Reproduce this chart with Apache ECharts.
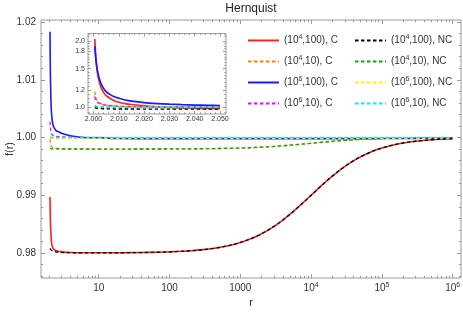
<!DOCTYPE html>
<html><head><meta charset="utf-8">
<script src="https://cdn.jsdelivr.net/npm/echarts@6/dist/echarts.min.js"></script>
<style>html,body{margin:0;padding:0;background:#fff}#c{width:463px;height:313px}</style>
</head><body><div id="c"></div>
<script>
// ---------- data ----------
const R_MAIN = [2.05, 2.07, 2.1, 2.14, 2.2, 2.3, 2.5, 2.8, 3.2, 4, 6, 10, 20, 40, 70,
  100, 150, 200, 300, 400, 500, 700, 1000, 1500, 2000, 3000, 4000, 5000, 7000, 10000,
  15000, 20000, 30000, 40000, 50000, 70000, 100000, 150000, 200000, 300000, 500000, 700000, 1000000];

const RED_C = [0.9897, 0.9864, 0.9840, 0.9822, 0.9812, 0.9807, 0.98040, 0.98025, 0.98015, 0.98008, 0.98004, 0.98003, 0.98004, 0.98008, 0.98014,
  0.98020, 0.98030, 0.98039, 0.98058, 0.98077, 0.98095, 0.98131, 0.98182, 0.98261, 0.98333, 0.98462, 0.98571, 0.98667, 0.98824, 0.99000,
  0.99200, 0.99333, 0.99500, 0.99600, 0.99667, 0.99750, 0.99818, 0.99875, 0.99905, 0.99935, 0.99961, 0.99972, 0.99980];
const ORANGE_C = [0.9997, 0.99916, 0.99875, 0.99846, 0.99830, 0.99819, 0.99813, 0.99810, 0.99807, 0.99804, 0.99802, 0.99801, 0.99800, 0.99801, 0.99801,
  0.99802, 0.99803, 0.99804, 0.99806, 0.99808, 0.99810, 0.99813, 0.99818, 0.99826, 0.99833, 0.99846, 0.99857, 0.99867, 0.99882, 0.99900,
  0.99920, 0.99933, 0.99950, 0.99960, 0.99967, 0.99975, 0.99982, 0.99988, 0.99990, 0.99994, 0.99996, 0.99997, 0.99998];
const BLUE_C = [1.0183, 1.0124, 1.0079, 1.0048, 1.0030, 1.0019, 1.0012, 1.0009, 1.0006, 1.0003, 1.0000, 0.99995, 0.99983, 0.99981, 0.99980,
  0.99980, 0.99980, 0.99980, 0.99980, 0.99980, 0.99980, 0.99980, 0.99980, 0.99980, 0.99980, 0.99980, 0.99980, 0.99980, 0.99980, 0.99980,
  0.99980, 0.99980, 0.99981, 0.99981, 0.99981, 0.99981, 0.99982, 0.99983, 0.99983, 0.99985, 0.99987, 0.99988, 0.99990];
const MAGENTA_C = [1.00278, 1.00188, 1.00121, 1.00073, 1.00047, 1.00030, 1.00020, 1.00015, 1.00010, 1.00005, 1.00002, 1.00000, 0.99999, 0.99998, 0.99998,
  0.99998, 0.99998, 0.99998, 0.99998, 0.99998, 0.99998, 0.99998, 0.99998, 0.99998, 0.99998, 0.99998, 0.99998, 0.99998, 0.99998, 0.99998,
  0.99998, 0.99998, 0.99998, 0.99998, 0.99998, 0.99998, 0.99998, 0.99998, 0.99998, 0.99998, 0.99999, 0.99999, 0.99999];
const BLACK_NC = [0.9808, 0.9807, 0.9806, 0.9805, 0.9804, 0.9803, 0.9802, 0.98013, 0.98008, 0.98005, 0.98003, 0.98003, 0.98004, 0.98008, 0.98014,
  0.98020, 0.98030, 0.98039, 0.98058, 0.98077, 0.98095, 0.98131, 0.98182, 0.98261, 0.98333, 0.98462, 0.98571, 0.98667, 0.98824, 0.99000,
  0.99200, 0.99333, 0.99500, 0.99600, 0.99667, 0.99750, 0.99818, 0.99875, 0.99905, 0.99935, 0.99961, 0.99972, 0.99980];
const GREEN_NC = [0.99808, 0.99807, 0.99806, 0.99805, 0.99804, 0.99803, 0.99802, 0.99801, 0.99801, 0.99801, 0.99801, 0.99800, 0.99800, 0.99801, 0.99801,
  0.99802, 0.99803, 0.99804, 0.99806, 0.99808, 0.99810, 0.99813, 0.99818, 0.99826, 0.99833, 0.99846, 0.99857, 0.99867, 0.99882, 0.99900,
  0.99920, 0.99933, 0.99950, 0.99960, 0.99967, 0.99975, 0.99982, 0.99988, 0.99990, 0.99994, 0.99996, 0.99997, 0.99998];
const YELLOW_NC = [0.99988, 0.99987, 0.99986, 0.99985, 0.99984, 0.99983, 0.99982, 0.99981, 0.99981, 0.99980, 0.99980, 0.99980, 0.99980, 0.99980, 0.99980,
  0.99980, 0.99980, 0.99980, 0.99980, 0.99980, 0.99980, 0.99980, 0.99980, 0.99980, 0.99980, 0.99980, 0.99980, 0.99980, 0.99980, 0.99980,
  0.99980, 0.99980, 0.99981, 0.99981, 0.99981, 0.99981, 0.99982, 0.99983, 0.99983, 0.99985, 0.99987, 0.99988, 0.99990];
const CYAN_NC = [1.00006, 1.00005, 1.00004, 1.00003, 1.00002, 1.00001, 1.00000, 0.99999, 0.99999, 0.99998, 0.99998, 0.99998, 0.99998, 0.99998, 0.99998,
  0.99998, 0.99998, 0.99998, 0.99998, 0.99998, 0.99998, 0.99998, 0.99998, 0.99998, 0.99998, 0.99998, 0.99998, 0.99998, 0.99998, 0.99998,
  0.99998, 0.99998, 0.99998, 0.99998, 0.99998, 0.99998, 0.99998, 0.99998, 0.99998, 0.99998, 0.99999, 0.99999, 0.99999];

// inset (zoom near r = 2)
const R_INSET = [2.0005, 2.00075, 2.001, 2.0015, 2.002, 2.003, 2.004, 2.005, 2.0065, 2.008, 2.01, 2.0125, 2.015, 2.02, 2.025, 2.03, 2.035, 2.04, 2.045, 2.05];
const RED_C_IN = [2.05, 1.82, 1.65, 1.46, 1.35, 1.23, 1.17, 1.13, 1.10, 1.075, 1.055, 1.04, 1.03, 1.015, 1.005, 0.999, 0.994, 0.991, 0.988, 0.987];
const ORANGE_C_IN = [1.18, 1.13, 1.10, 1.07, 1.055, 1.038, 1.029, 1.023, 1.018, 1.013, 1.010, 1.007, 1.005, 1.003, 1.0019, 1.0012, 1.0007, 1.0003, 1.0000, 0.9997];
const BLUE_C_IN = [1.90, 1.75, 1.63, 1.48, 1.39, 1.28, 1.22, 1.18, 1.145, 1.12, 1.10, 1.08, 1.067, 1.05, 1.04, 1.033, 1.028, 1.024, 1.021, 1.0185];
const MAGENTA_C_IN = [1.12, 1.09, 1.075, 1.056, 1.045, 1.033, 1.026, 1.021, 1.017, 1.014, 1.011, 1.009, 1.0075, 1.0058, 1.0047, 1.004, 1.0035, 1.0031, 1.003, 1.0028];
const BLACK_NC_IN = [0.996, 0.994, 0.992, 0.990, 0.988, 0.986, 0.985, 0.984, 0.9835, 0.983, 0.9825, 0.982, 0.9817, 0.9814, 0.9812, 0.9811, 0.9810, 0.9809, 0.9808, 0.9808];
const GREEN_NC_IN = [1.012, 1.009, 1.007, 1.005, 1.004, 1.003, 1.002, 1.0015, 1.001, 1.0005, 1.0, 0.9995, 0.9992, 0.9988, 0.9986, 0.9984, 0.9983, 0.9982, 0.9981, 0.99808];
const YELLOW_NC_IN = [1.025, 1.02, 1.016, 1.012, 1.01, 1.007, 1.0055, 1.0045, 1.0035, 1.003, 1.0025, 1.002, 1.0017, 1.0013, 1.001, 1.0008, 1.0006, 1.0004, 1.0002, 0.99988];
const CYAN_NC_IN = [1.02, 1.016, 1.013, 1.01, 1.008, 1.006, 1.0048, 1.004, 1.0032, 1.0027, 1.0022, 1.0018, 1.0015, 1.0011, 1.0009, 1.0007, 1.0005, 1.0003, 1.0002, 1.00006];

const NAMES = ['(10^4,100), C', '(10^4,10), C', '(10^6,100), C', '(10^6,10), C',
               '(10^4,100), NC', '(10^4,10), NC', '(10^6,100), NC', '(10^6,10), NC'];

// tick labels
const X_MAJOR = [10, 100, 1000, 10000, 100000, 1000000];
const Y_MAJOR = [0.98, 0.99, 1.00, 1.01, 1.02];
const XI_MAJOR = [2.00, 2.01, 2.02, 2.03, 2.04, 2.05];
const YI_MAJOR = [1.0, 1.2, 1.5, 1.8, 2.0];
const YI_MINOR = [0.95, 1.05, 1.1, 1.15, 1.25, 1.3, 1.35, 1.4, 1.45, 1.55, 1.6, 1.65, 1.7, 1.75, 1.85, 1.9, 1.95, 2.1, 2.15];

// ---------- styling / building ----------
const X_MIN = 1.53, X_MAX = 1.31e6;
const Y_MIN = 0.97567, Y_MAX = 1.02035;
const XI_MIN = 1.99783, XI_MAX = 2.05237;
const YI_MIN = 0.932, YI_MAX = 2.171;

const X_MINOR = [];
for (let n = 0; n <= 5; n++) for (let k = 2; k <= 9; k++) X_MINOR.push(k * Math.pow(10, n));
const Y_MINOR = [];
for (let i = 976; i <= 1020; i += 2) if (i % 10 !== 0) Y_MINOR.push(i / 1000);
const XI_MINOR = [];
for (let i = 1998; i <= 2052; i += 2) if (i % 10 !== 0) XI_MINOR.push(i / 1000);

const FONT = 'Liberation Sans, Arial, sans-serif';
const AX = '#9a9a9a';
const TXT = '#333';

const COLORS = ['#ff2020', '#ff8000', '#1a1aff', '#ff00ff', '#000000', '#00b000', '#f5f500', '#00f0f0'];
const DASHED = [false, true, false, true, true, true, true, true];
const MAIN_DATA = [RED_C, ORANGE_C, BLUE_C, MAGENTA_C, BLACK_NC, GREEN_NC, YELLOW_NC, CYAN_NC];
const INSET_DATA = [RED_C_IN, ORANGE_C_IN, BLUE_C_IN, MAGENTA_C_IN, BLACK_NC_IN, GREEN_NC_IN, YELLOW_NC_IN, CYAN_NC_IN];

const supRich = { sup: { fontSize: 7, verticalAlign: 'top', lineHeight: 8, fontFamily: FONT, color: TXT } };

function supFmt(s) { return s.replace(/\^(\d)/g, '{sup|$1}'); }
function fmtX(v) {
  const e = Math.round(Math.log10(v));
  return e <= 3 ? String(Math.round(v)) : '10{sup|' + e + '}';
}

function tickOnly(base, pos, values, len) {
  return Object.assign({}, base, {
    position: pos,
    axisLine: { show: false, onZero: false },
    splitLine: { show: false },
    axisTick: { show: true, inside: true, length: len, customValues: values, lineStyle: { color: AX, width: 1 } },
    axisLabel: { show: false }
  });
}

const xMainBase = { type: 'log', logBase: 10, min: X_MIN, max: X_MAX, gridIndex: 0 };
const yMainBase = { type: 'value', min: Y_MIN, max: Y_MAX, gridIndex: 0, scale: true };
const xInBase = { type: 'value', min: XI_MIN, max: XI_MAX, gridIndex: 1, scale: true };
const yInBase = { type: 'log', logBase: 10, min: YI_MIN, max: YI_MAX, gridIndex: 1 };

const xAxis = [
  Object.assign(tickOnly(xMainBase, 'bottom', X_MAJOR, 4), {
    name: 'r', nameLocation: 'middle', nameGap: 19, nameMoveOverlap: false,
    nameTextStyle: { fontSize: 11, color: TXT, fontFamily: FONT },
    axisLabel: { show: true, customValues: X_MAJOR, formatter: fmtX, margin: 4, fontSize: 10, lineHeight: 13, color: TXT, fontFamily: FONT, rich: supRich }
  }),
  tickOnly(xMainBase, 'bottom', X_MINOR, 2.2),
  Object.assign(tickOnly(xMainBase, 'top', X_MAJOR, 4), {
    name: 'Hernquist', nameLocation: 'middle', nameGap: 5, nameMoveOverlap: false,
    nameTextStyle: { fontSize: 12, color: '#222', fontFamily: FONT }
  }),
  tickOnly(xMainBase, 'top', X_MINOR, 2.2),
  Object.assign(tickOnly(xInBase, 'bottom', XI_MAJOR, 3), {
    axisLabel: { show: true, customValues: XI_MAJOR, formatter: v => v.toFixed(3), margin: 2, fontSize: 7, color: TXT, fontFamily: FONT }
  }),
  tickOnly(xInBase, 'bottom', XI_MINOR, 1.6),
  tickOnly(xInBase, 'top', XI_MAJOR, 3),
  tickOnly(xInBase, 'top', XI_MINOR, 1.6)
];

const yAxis = [
  Object.assign(tickOnly(yMainBase, 'left', Y_MAJOR, 4), {
    name: 'f(r)', nameLocation: 'middle', nameGap: 26, nameMoveOverlap: false,
    nameTextStyle: { fontSize: 11, color: TXT, fontFamily: FONT },
    axisLabel: { show: true, customValues: Y_MAJOR, formatter: v => v.toFixed(2), margin: 5, fontSize: 10, color: TXT, fontFamily: FONT }
  }),
  tickOnly(yMainBase, 'left', Y_MINOR, 2.2),
  tickOnly(yMainBase, 'right', Y_MAJOR, 4),
  tickOnly(yMainBase, 'right', Y_MINOR, 2.2),
  Object.assign(tickOnly(yInBase, 'left', YI_MAJOR, 3), {
    axisLabel: { show: true, customValues: YI_MAJOR, formatter: v => v.toFixed(1), margin: 3, fontSize: 7, color: TXT, fontFamily: FONT }
  }),
  tickOnly(yInBase, 'left', YI_MINOR, 1.6),
  tickOnly(yInBase, 'right', YI_MAJOR, 3),
  tickOnly(yInBase, 'right', YI_MINOR, 1.6)
];

function lineStyleFor(i) {
  return { color: COLORS[i], width: DASHED[i] ? 1.3 : 1.6, type: DASHED[i] ? [3.5, 2.5] : 'solid' };
}

const series = [];
NAMES.forEach((name, i) => {
  series.push({
    type: 'line', name, xAxisIndex: 0, yAxisIndex: 0,
    data: R_MAIN.map((r, j) => [r, MAIN_DATA[i][j]]),
    symbol: 'none', showSymbol: false, smooth: 0.35,
    lineStyle: lineStyleFor(i), itemStyle: { color: COLORS[i] },
    silent: true, animation: false
  });
});
NAMES.forEach((name, i) => {
  series.push({
    type: 'line', name, xAxisIndex: 4, yAxisIndex: 4,
    data: R_INSET.map((r, j) => [r, INSET_DATA[i][j]]),
    symbol: 'none', showSymbol: false, smooth: 0.3,
    lineStyle: Object.assign(lineStyleFor(i), { width: DASHED[i] ? 1.4 : 1.7 }), itemStyle: { color: COLORS[i] },
    silent: true, animation: false
  });
});

const legendCommon = {
  orient: 'vertical', top: 29, itemWidth: 31, itemHeight: 8, itemGap: 8,
  selectedMode: false, formatter: supFmt,
  itemStyle: { opacity: 0 },
  textStyle: { fontSize: 10, lineHeight: 13, color: TXT, fontFamily: FONT, rich: supRich }
};

const option = {
  animation: false,
  backgroundColor: '#fff',
  grid: [
    { left: 41, top: 20, right: 2, bottom: 35, outerBoundsMode: 'none', containLabel: false, show: true, borderColor: AX, borderWidth: 1, backgroundColor: 'transparent' },
    { left: 88, top: 33.5, width: 138, height: 80.5, outerBoundsMode: 'none', containLabel: false, show: true, borderColor: AX, borderWidth: 1, backgroundColor: '#fff' }
  ],
  legend: [
    Object.assign({}, legendCommon, { left: 242, data: NAMES.slice(0, 4) }),
    Object.assign({}, legendCommon, { left: 349, data: NAMES.slice(4) })
  ],
  xAxis, yAxis, series
};

const chart = echarts.init(document.getElementById('c'), null, { renderer: 'canvas' });
chart.setOption(option);
</script>
</body></html>
